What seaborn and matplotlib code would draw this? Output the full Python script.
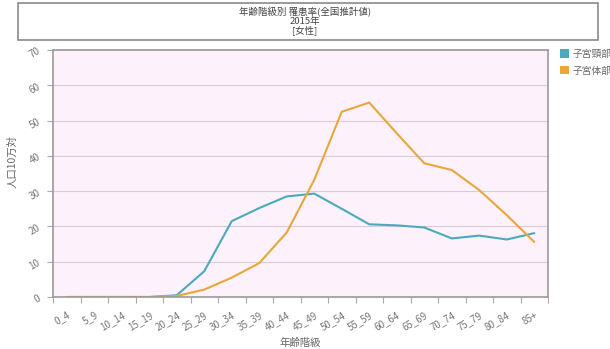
import numpy as np
import pandas as pd
import seaborn as sns
import matplotlib.pyplot as plt
from matplotlib.patches import Patch, Rectangle

age_groups = ['0_4', '5_9', '10_14', '15_19', '20_24', '25_29', '30_34', '35_39',
              '40_44', '45_49', '50_54', '55_59', '60_64', '65_69', '70_74',
              '75_79', '80_84', '85+']
cervix = [0, 0, 0, 0, 0.5, 7.3, 21.5, 25.2, 28.5, 29.3, 25.0, 20.6, 20.3, 19.7,
          16.6, 17.4, 16.3, 18.1]
corpus = [0, 0, 0, 0, 0.3, 2.1, 5.5, 9.6, 18.3, 33.2, 52.5, 55.1, 46.4, 37.9,
          36.0, 30.3, 23.2, 15.6]
series_names = ['子宮頸部', '子宮体部']
colors = ['#4aaabb', '#e8a73a']

df = pd.DataFrame({
    'age': age_groups * 2,
    'rate': cervix + corpus,
    'site': [series_names[0]] * len(age_groups) + [series_names[1]] * len(age_groups),
})

sns.set_style('white')
plt.rcParams['font.family'] = ['Noto Sans CJK JP', 'DejaVu Sans']

fig = plt.figure(figsize=(6.1, 3.49), dpi=100)
ax = fig.add_axes([53 / 610, 1 - 297 / 349, 495 / 610, 247 / 349])
ax.set_facecolor('#fdf1fb')

sns.lineplot(data=df, x='age', y='rate', hue='site', palette=colors,
             linewidth=1.5, legend=False, ax=ax, sort=False)

ax.set_xlim(-0.5, len(age_groups) - 0.5)
ax.set_ylim(0, 70)
ax.set_yticks(range(0, 71, 10))
ax.yaxis.grid(True, color='#d9ccd6', linewidth=0.8)
ax.set_axisbelow(True)

ax.set_xticks(range(len(age_groups)))
ax.set_xticklabels(age_groups, rotation=30, ha='right', rotation_mode='anchor')
ax.set_xticks(np.arange(-0.5, len(age_groups), 1), minor=True)
ax.tick_params(axis='x', which='major', length=0, pad=9, labelsize=7,
               labelcolor='#777777')
ax.tick_params(axis='x', which='minor', length=4, color='#aaaaaa', width=0.8,
               bottom=True)
ax.tick_params(axis='y', length=4, color='#aaaaaa', width=0.8, left=True,
               labelsize=7, labelcolor='#777777', labelrotation=30, pad=4)

for s in ax.spines.values():
    s.set_color('#9a9a9a')
    s.set_linewidth(1.2)

ax.set_xlabel('年齢階級', fontsize=7.5, color='#666666', labelpad=4)
ax.set_ylabel('人口10万対', fontsize=7.5, color='#666666')
ax.yaxis.set_label_coords(-0.072, 0.55)

# title box
fig.patches.append(Rectangle((18 / 610, 1 - 40 / 349), 580 / 610, 37 / 349,
                             transform=fig.transFigure, facecolor='white',
                             edgecolor='#8a8a8a', linewidth=1.2))
fig.text(0.5, 1 - 21 / 349, '年齢階級別 罹患率(全国推計値)\n2015年\n[女性]',
         ha='center', va='center', fontsize=6.8, color='#444444', linespacing=0.95)

handles = [Patch(facecolor=c, edgecolor='none') for c in colors]
fig.legend(handles, series_names, loc='upper left',
           bbox_to_anchor=(556 / 610, 1 - 45 / 349), frameon=False,
           fontsize=7, labelcolor='#666666', handlelength=0.9,
           handleheight=0.9, handletextpad=0.4, labelspacing=0.7,
           borderaxespad=0)

fig.savefig('out.png', dpi=100)
